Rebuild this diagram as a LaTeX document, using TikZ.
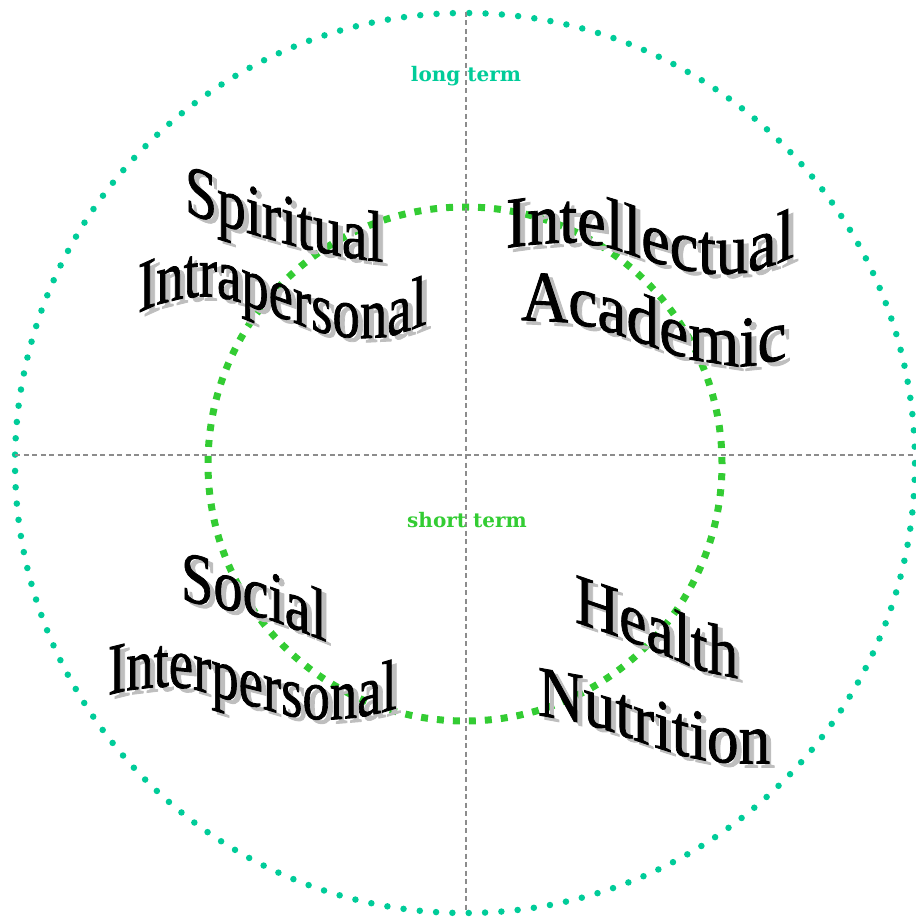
\documentclass[tikz,border=0pt]{standalone}
\usepackage{fontspec}
\usepackage{tikz}
\newfontfamily\wordfont[FakeBold=1.2]{Liberation Serif}
\newfontfamily\labelfont{DejaVu Serif}
\definecolor{longteal}{RGB}{0,204,153}
\definecolor{shortgreen}{RGB}{51,204,51}
\definecolor{shadowgray}{RGB}{190,190,190}
\definecolor{axisgray}{RGB}{140,140,140}

\tikzset{
  letter/.style={inner sep=0pt, outer sep=0pt, font=\wordfont\fontsize{72}{72}\selectfont},
  term/.style={inner sep=0pt, font=\labelfont\bfseries\fontsize{20}{20}\selectfont},
  outer ring/.style={longteal, line width=6.5pt, line cap=round, dash pattern=on 0pt off 16.343pt},
  inner ring/.style={shortgreen, line width=7pt, dash pattern=on 7pt off 8.988pt},
  axis/.style={axisgray, line width=1.2pt, dash pattern=on 5pt off 3.5pt}
}

\newcommand{\wavyword}[5]{
  \node[letter, anchor=base east] (#1s-0) at (#2+5,#3+4) {};
  \foreach \ch/\sl [count=\i, evaluate=\i as \j using int(\i-1)] in {#5}
    \node[letter, text=shadowgray, yslant=\sl, xscale=#4, anchor=base west] (#1s-\i) at (#1s-\j.base east) {\ch};
  \node[letter, anchor=base east] (#1-0) at (#2,#3) {};
  \foreach \ch/\sl [count=\i, evaluate=\i as \j using int(\i-1)] in {#5}
    \node[letter, text=black, yslant=\sl, xscale=#4, anchor=base west] (#1-\i) at (#1-\j.base east) {\ch};
}

\begin{document}
\begin{tikzpicture}[x=1pt, y=-1pt]
\useasboundingbox (0,0) rectangle (915,923);
\coordinate (mid) at (465,463);
\coordinate (top) at (466,12);
\coordinate (bottom) at (466,910);
\coordinate (left) at (15,455);
\coordinate (right) at (913,455);

\draw[outer ring] (mid) circle[radius=450pt];
\draw[inner ring] (465,464) circle[radius=257pt];
\draw[axis] (top) -- (bottom);
\draw[axis] (left) -- (right);

\node[term, text=longteal, anchor=base] (long) at (466,82) {long term};
\node[term, text=shortgreen, anchor=base] (short) at (467,527) {short term};

\wavyword{spir}{185}{212}{0.80}{S/-.36, p/-.3, i/-.3, r/-.28, i/-.27, t/-.25, u/-.2, a/-.15, l/-.1}
\wavyword{intra}{138}{313}{0.76}{I/.45, n/.25, t/.1, r/0, a/-.25, p/-.4, e/-.35, r/-.4, s/-.3, o/-.1, n/.05, a/.3, l/.4}
\wavyword{intel}{506}{248}{0.89}{I/.14, n/.08, t/0, e/-.15, l/-.3, l/-.35, e/-.3, c/-.2, t/-.1, u/.05, a/.3, l/.45}
\wavyword{acad}{521}{320}{0.91}{A/-.05, c/-.2, a/-.32, d/-.36, e/-.34, m/-.15, i/.1, c/.25}
\wavyword{soc}{181}{600}{0.81}{S/-.2, o/-.22, c/-.25, i/-.35, a/-.4, l/-.4}
\wavyword{inter}{108}{695}{0.76}{I/.25, n/.12, t/.05, e/-.1, r/-.3, p/-.3, e/-.25, r/-.3, s/-.2, o/-.05, n/.08, a/.2, l/.3}
\wavyword{heal}{575}{622}{0.85}{H/-.34, e/-.4, a/-.4, l/-.45, t/-.35, h/-.2}
\wavyword{nutr}{538}{715}{0.88}{N/-.18, u/-.3, t/-.38, r/-.35, i/-.32, t/-.28, i/-.2, o/-.08, n/0}
\end{tikzpicture}
\end{document}
